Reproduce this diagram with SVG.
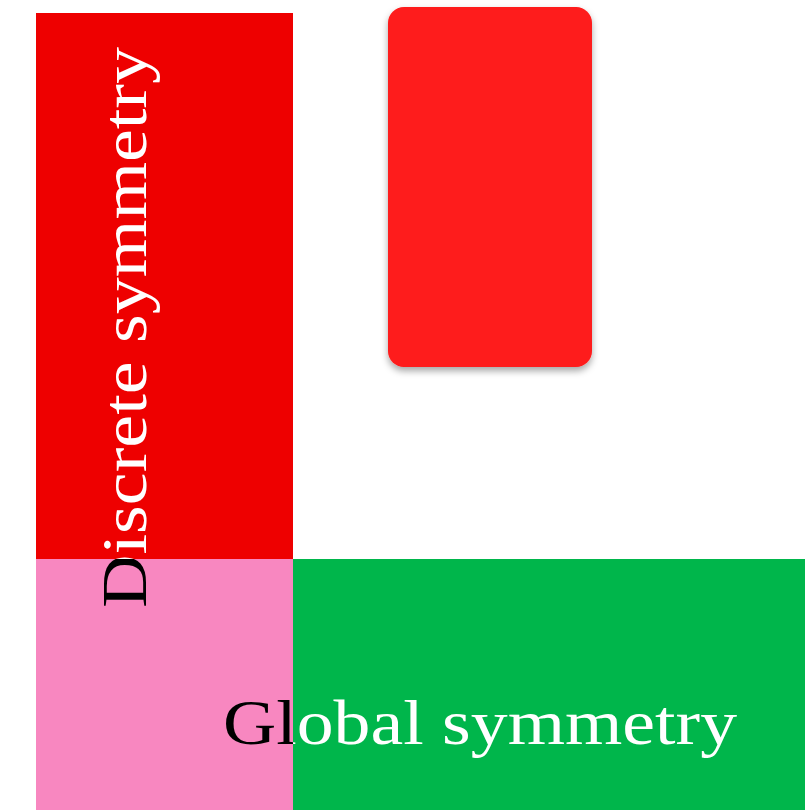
<svg xmlns="http://www.w3.org/2000/svg" width="805" height="810" viewBox="0 0 805 810">
  <defs>
    <style>
      .lbl { font-family: "Liberation Serif", "Times New Roman", serif; font-size: 63px; }
      .w { fill: #ffffff; }
      .k { fill: #000000; }
    </style>
    <filter id="shadow" x="-20%" y="-20%" width="140%" height="140%">
      <feDropShadow dx="0" dy="4" stdDeviation="3.5" flood-color="#000000" flood-opacity="0.35"/>
    </filter>
    <clipPath id="clipPink"><rect x="36" y="559" width="257" height="251"/></clipPath>
    <clipPath id="clipRedD"><rect x="0" y="0" width="805" height="559"/></clipPath>
    <clipPath id="clipGreen"><rect x="293" y="0" width="512" height="810"/></clipPath>
  </defs>
  <rect x="0" y="0" width="805" height="810" fill="#ffffff"/>

  <g id="discrete">
    <rect x="36" y="13" width="257" height="546" fill="#ee0000"/>
  </g>
  <g id="overlap">
    <rect x="36" y="559" width="257" height="251" fill="#f887c0"/>
  </g>
  <g id="global">
    <rect x="293" y="559" width="512" height="251" fill="#00b64b"/>
  </g>
  <g id="box">
    <rect x="388" y="7" width="204" height="360" rx="16" ry="16" fill="#fe1a1a" filter="url(#shadow)"/>
  </g>

  <g id="labels">
    <g clip-path="url(#clipRedD)">
      <text class="lbl w" transform="translate(146,608) rotate(-90)" textLength="561" lengthAdjust="spacingAndGlyphs">Discrete symmetry</text>
    </g>
    <g clip-path="url(#clipPink)">
      <text class="lbl k" transform="translate(146,608) rotate(-90)" textLength="561" lengthAdjust="spacingAndGlyphs">Discrete symmetry</text>
      <text class="lbl k" x="223" y="744" textLength="514" lengthAdjust="spacingAndGlyphs">Global symmetry</text>
    </g>
    <g clip-path="url(#clipGreen)">
      <text class="lbl w" x="223" y="744" textLength="514" lengthAdjust="spacingAndGlyphs">Global symmetry</text>
    </g>
  </g>
</svg>
